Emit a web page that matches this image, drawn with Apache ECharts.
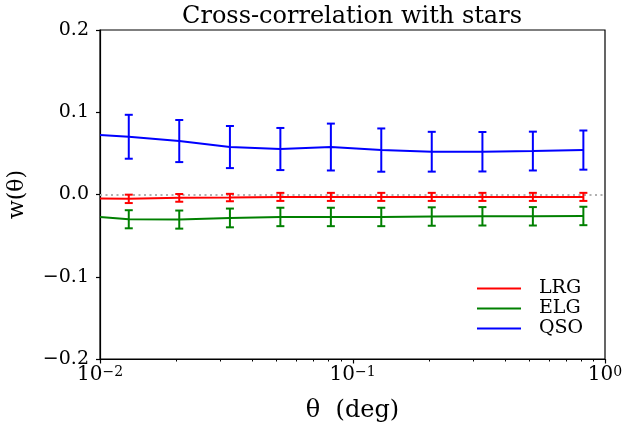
<!DOCTYPE html>
<html>
<head>
<meta charset="utf-8">
<script src="https://cdn.jsdelivr.net/npm/echarts@6/dist/echarts.min.js"></script>
<style>
html,body{margin:0;padding:0;background:#fff;}
#chart{width:625px;height:423px;}
</style>
</head>
<body>
<div id="chart"></div>
<script>
// ---- data ----
const thetaDeg = [0.01, 0.0130, 0.0206, 0.0327, 0.0518, 0.0821, 0.130, 0.206, 0.327, 0.518, 0.821];
const lrgW   = [-0.0049, -0.0053, -0.0041, -0.0037, -0.0029, -0.0029, -0.0029, -0.0029, -0.0029, -0.0029, -0.0029];
const lrgErr = [null, 0.0051, 0.0047, 0.0045, 0.0049, 0.0049, 0.0049, 0.0049, 0.0049, 0.0049, 0.0049];
const elgW   = [-0.0273, -0.0301, -0.0305, -0.0285, -0.0273, -0.0273, -0.0273, -0.0268, -0.0265, -0.0265, -0.0261];
const elgErr = [null, 0.0110, 0.0110, 0.0114, 0.0112, 0.0112, 0.0112, 0.0112, 0.0112, 0.0112, 0.0112];
const qsoW   = [0.0723, 0.0702, 0.0650, 0.0577, 0.0553, 0.0577, 0.0540, 0.0520, 0.0520, 0.0528, 0.0540];
const qsoErr = [null, 0.0267, 0.0256, 0.0256, 0.0256, 0.0285, 0.0263, 0.0242, 0.0240, 0.0236, 0.0238];
const seriesNames = ['LRG', 'ELG', 'QSO'];
const xMajorTicks = [0.01, 0.1, 1];
const xMinorTicks = [0.02, 0.03, 0.04, 0.05, 0.06, 0.07, 0.08, 0.09, 0.2, 0.3, 0.4, 0.5, 0.6, 0.7, 0.8, 0.9];
const zeroLevel = [0];
const yMin = -0.2, yMax = 0.2;

const FONT = 'DejaVu Serif';
const colors = ['#ff0000', '#008000', '#0000ff'];
const values = [lrgW, elgW, qsoW];
const errs = [lrgErr, elgErr, qsoErr];

function lineData(w) { return thetaDeg.map((x, i) => [x, w[i]]); }
function errData(w, e) {
  const out = [];
  thetaDeg.forEach((x, i) => { if (e[i] != null) out.push([x, w[i] - e[i], w[i] + e[i]]); });
  return out;
}

const series = [];
seriesNames.forEach((name, k) => {
  series.push({
    name: name, type: 'line', xAxisIndex: 0, yAxisIndex: 0,
    data: lineData(values[k]), showSymbol: false, symbol: 'none',
    lineStyle: { color: colors[k], width: 2 }, itemStyle: { color: colors[k] },
    z: 3, silent: true, animation: false,
    markLine: k === 0 ? {
      silent: true, symbol: 'none', label: { show: false },
      lineStyle: { color: '#b0b0b0', type: [2, 3.5], width: 2 },
      data: zeroLevel.map(v => ({ yAxis: v })), z: 1, animation: false
    } : undefined
  });
  series.push({
    name: name + ' err', type: 'custom', xAxisIndex: 0, yAxisIndex: 0,
    data: errData(values[k], errs[k]), encode: { x: 0, y: [1, 2] },
    z: 4, silent: true, animation: false,
    renderItem: function (params, api) {
      const x = api.value(0);
      const lo = api.coord([x, api.value(1)]);
      const hi = api.coord([x, api.value(2)]);
      const cw = 4;
      const st = { stroke: colors[k], lineWidth: 2 };
      return {
        type: 'group', children: [
          { type: 'line', shape: { x1: lo[0], y1: lo[1], x2: hi[0], y2: hi[1] }, style: st },
          { type: 'line', shape: { x1: lo[0] - cw, y1: lo[1], x2: lo[0] + cw, y2: lo[1] }, style: st },
          { type: 'line', shape: { x1: hi[0] - cw, y1: hi[1], x2: hi[0] + cw, y2: hi[1] }, style: st }
        ]
      };
    }
  });
});

// x-axis tick marks (major + minor) drawn through the axis scale
function tickSeries(vals, len, width) {
  return {
    type: 'custom', xAxisIndex: 0, yAxisIndex: 0, clip: false, silent: true, animation: false, z: 10,
    data: vals.map(v => [v, yMin]), encode: { x: 0, y: 1 },
    renderItem: function (params, api) {
      const p = api.coord([api.value(0), api.value(1)]);
      const xx = Math.round(p[0]) + 0.5;
      return { type: 'line', shape: { x1: xx, y1: p[1], x2: xx, y2: p[1] + len }, style: { stroke: '#000', lineWidth: width } };
    }
  };
}
series.push(tickSeries(xMajorTicks, 4.5, 1.2));
series.push(tickSeries(xMinorTicks, 2.5, 1));

const option = {
  animation: false,
  backgroundColor: '#ffffff',
  textStyle: { fontFamily: FONT, color: '#000' },
  title: {
    text: 'Cross-correlation with stars', left: 347, top: 0, textAlign: 'center',
    textStyle: { fontFamily: FONT, fontSize: 24, fontWeight: 'normal', color: '#000' }
  },
  legend: {
    data: seriesNames, orient: 'vertical', left: 472, top: 274,
    icon: 'rect', itemWidth: 44, itemHeight: 2, itemGap: 1,
    textStyle: { fontFamily: FONT, fontSize: 19, color: '#000', padding: [0, 0, 0, 13] },
    selectedMode: false
  },
  grid: {
    left: 100, right: 20, top: 30, bottom: 64,
    outerBoundsMode: 'none', containLabel: false,
    show: true, borderColor: '#000', borderWidth: 1.2, backgroundColor: 'transparent'
  },
  xAxis: {
    type: 'log', logBase: 10, min: 0.01, max: 1, position: 'bottom',
    name: 'θ  (deg)', nameLocation: 'middle', nameGap: 40,
    nameTextStyle: { fontFamily: FONT, fontSize: 24, color: '#000' },
    axisLine: { show: true, onZero: false, lineStyle: { color: '#000', width: 1.2 } },
    axisTick: { show: false },
    splitLine: { show: false }, minorTick: { show: false },
    axisLabel: {
      customValues: xMajorTicks, margin: 6,
      formatter: function (v) {
        const e = Math.round(Math.log10(v));
        return '{b|10}{s|' + (e < 0 ? '−' + (-e) : e) + '}';
      },
      rich: {
        b: { fontFamily: FONT, fontSize: 20, color: '#000' },
        s: { fontFamily: FONT, fontSize: 14, color: '#000', verticalAlign: 'top', padding: [0, 0, 6, 0] }
      }
    }
  },
  yAxis: {
    type: 'value', min: yMin, max: yMax, interval: 0.1,
    name: 'w(θ)', nameLocation: 'middle', nameGap: 72, nameRotate: 90,
    nameTextStyle: { fontFamily: FONT, fontSize: 22, color: '#000' },
    axisLine: { show: true, onZero: false, lineStyle: { color: '#000', width: 1.2 } },
    axisTick: { show: true, inside: false, length: 4, lineStyle: { color: '#000', width: 1.2 } },
    splitLine: { show: false },
    axisLabel: {
      margin: 11, fontFamily: FONT, fontSize: 19, color: '#000',
      formatter: function (v) { return (v < -1e-9 ? '−' : '') + Math.abs(v).toFixed(1); }
    }
  },
  series: series
};

const chart = echarts.init(document.getElementById('chart'), null, { renderer: 'canvas' });
chart.setOption(option);
</script>
</body>
</html>
